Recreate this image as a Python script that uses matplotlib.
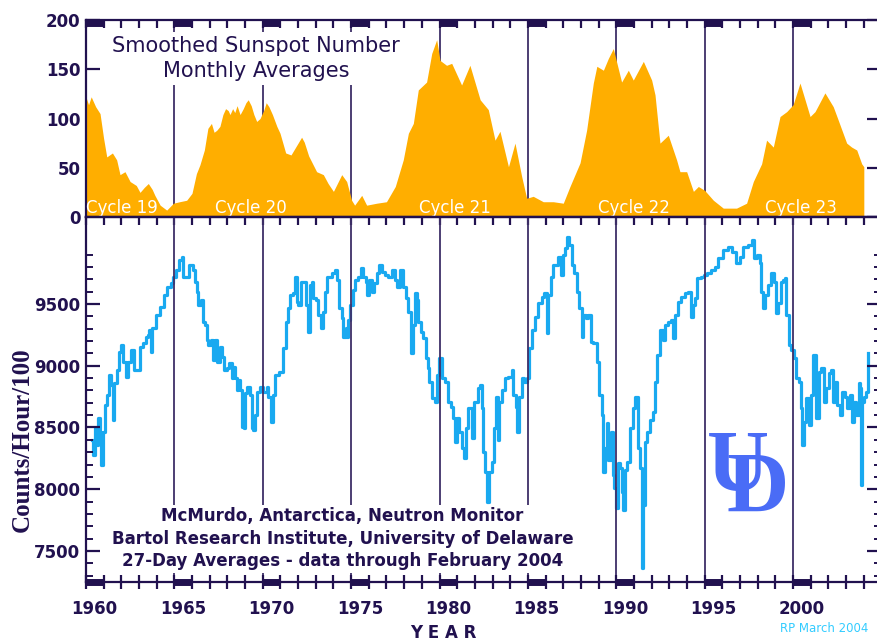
import matplotlib
matplotlib.use("Agg")
import matplotlib.pyplot as plt
import matplotlib.transforms as mtransforms
from matplotlib.ticker import FixedLocator, NullFormatter


# Monthly averaged sunspot number (year, value)
SUNSPOT_YEAR = [
    1960.00, 1960.15, 1960.30, 1960.55, 1960.80, 1961.00, 1961.18, 1961.50,
    1961.74, 1961.93, 1962.21, 1962.50, 1962.85, 1963.06, 1963.30, 1963.53,
    1963.75, 1963.90, 1964.20, 1964.57, 1964.95, 1965.30, 1965.70, 1966.00,
    1966.25, 1966.45, 1966.70, 1966.90, 1967.10, 1967.25, 1967.40, 1967.58,
    1967.75, 1967.90, 1968.05, 1968.15, 1968.30, 1968.42, 1968.55, 1968.72,
    1968.90, 1969.05, 1969.18, 1969.35, 1969.50, 1969.66, 1969.85, 1970.05,
    1970.20, 1970.35, 1970.55, 1970.80, 1970.98, 1971.30, 1971.60, 1971.90,
    1972.20, 1972.35, 1972.60, 1973.05, 1973.43, 1973.70, 1974.00, 1974.47,
    1974.75, 1975.03, 1975.20, 1975.60, 1975.88, 1976.45, 1977.00, 1977.50,
    1977.95, 1978.24, 1978.52, 1978.80, 1979.27, 1979.56, 1979.84, 1980.03,
    1980.40, 1980.69, 1981.25, 1981.72, 1982.30, 1982.76, 1983.14, 1983.42,
    1983.90, 1984.27, 1984.65, 1984.93, 1985.30, 1985.87, 1986.44, 1987.00,
    1987.38, 1987.95, 1988.32, 1988.70, 1988.90, 1989.27, 1989.55, 1989.83,
    1990.30, 1990.68, 1990.96, 1991.53, 1992.00, 1992.19, 1992.47, 1992.94,
    1993.41, 1993.60, 1993.98, 1994.36, 1994.64, 1995.00, 1995.49, 1996.05,
    1996.80, 1997.37, 1997.75, 1998.22, 1998.50, 1998.88, 1999.26, 1999.64,
    2000.00, 2000.39, 2000.96, 2001.24, 2001.80, 2002.27, 2002.56, 2003.03,
    2003.31, 2003.60, 2003.88, 2004.00,
]
SUNSPOT_VALUE = [
    122, 114, 122, 112, 105, 80, 61, 65,
    58, 43, 46, 36, 32, 25, 30, 34,
    28, 22, 12, 7, 14, 15.5, 17, 24,
    44, 53, 68, 90, 95, 86, 88, 92,
    104, 110, 108, 104, 110, 106, 113, 104,
    110, 116, 119, 113, 104, 97, 100, 108,
    116, 112, 104, 92, 85, 65, 63, 72,
    81, 76, 62, 46, 43, 34, 26, 43,
    36, 17, 12, 22, 12, 14, 15.5, 31,
    58, 85, 95, 129, 137, 166, 180, 159,
    154, 156, 134, 154, 119, 109, 78, 87,
    51, 75, 41, 19, 21, 15.5, 15.5, 14,
    31, 55, 88, 136, 153, 149, 161, 171,
    137, 149, 139, 158, 139, 124, 75, 83,
    58, 46, 46, 26, 31, 27, 17, 9,
    9, 14, 36, 54, 78, 71, 102, 107,
    114, 136, 102, 107, 126, 112, 98, 75,
    71, 68, 54, 51,
]

# McMurdo neutron monitor, 27-day averages (counts/hour/100)
NEUTRON_YEAR = [
    1960.33, 1960.38, 1960.52, 1960.61, 1960.70, 1960.80, 1960.83, 1960.95,
    1961.08, 1961.17, 1961.33, 1961.40, 1961.55, 1961.60, 1961.74, 1961.89,
    1961.99, 1962.08, 1962.27, 1962.40, 1962.53, 1962.72, 1962.96, 1963.06,
    1963.25, 1963.38, 1963.53, 1963.59, 1963.68, 1963.74, 1963.96, 1964.19,
    1964.42, 1964.60, 1964.80, 1964.94, 1965.10, 1965.27, 1965.42, 1965.47,
    1965.66, 1965.85, 1966.04, 1966.17, 1966.27, 1966.36, 1966.49, 1966.60,
    1966.74, 1966.83, 1966.92, 1967.06, 1967.17, 1967.30, 1967.43, 1967.58,
    1967.68, 1967.81, 1967.96, 1968.11, 1968.25, 1968.34, 1968.43, 1968.53,
    1968.62, 1968.72, 1968.81, 1968.94, 1969.00, 1969.13, 1969.28, 1969.38,
    1969.47, 1969.56, 1969.66, 1969.85, 1970.03, 1970.23, 1970.32, 1970.45,
    1970.57, 1970.70, 1970.94, 1971.17, 1971.32, 1971.45, 1971.54, 1971.70,
    1971.83, 1971.92, 1972.01, 1972.15, 1972.30, 1972.45, 1972.58, 1972.67,
    1972.77, 1972.86, 1973.01, 1973.14, 1973.28, 1973.39, 1973.52, 1973.62,
    1973.90, 1974.09, 1974.22, 1974.33, 1974.47, 1974.56, 1974.70, 1974.75,
    1974.84, 1974.94, 1975.09, 1975.22, 1975.41, 1975.54, 1975.69, 1975.84,
    1975.92, 1976.03, 1976.17, 1976.30, 1976.45, 1976.60, 1976.73, 1976.92,
    1977.10, 1977.30, 1977.48, 1977.61, 1977.77, 1977.95, 1978.10, 1978.24,
    1978.37, 1978.48, 1978.61, 1978.71, 1978.80, 1978.94, 1979.08, 1979.24,
    1979.33, 1979.42, 1979.56, 1979.75, 1979.84, 1979.99, 1980.12, 1980.31,
    1980.50, 1980.63, 1980.78, 1980.88, 1980.97, 1981.12, 1981.26, 1981.39,
    1981.50, 1981.63, 1981.82, 1981.95, 1982.20, 1982.29, 1982.39, 1982.48,
    1982.57, 1982.70, 1982.82, 1982.95, 1983.08, 1983.20, 1983.33, 1983.38,
    1983.52, 1983.70, 1983.89, 1984.08, 1984.17, 1984.33, 1984.37, 1984.51,
    1984.65, 1984.78, 1984.93, 1985.08, 1985.21, 1985.40, 1985.59, 1985.78,
    1985.91, 1986.06, 1986.15, 1986.29, 1986.44, 1986.72, 1986.87, 1986.97,
    1987.10, 1987.23, 1987.34, 1987.48, 1987.61, 1987.76, 1987.91, 1988.04,
    1988.13, 1988.29, 1988.42, 1988.55, 1988.70, 1988.89, 1989.04, 1989.17,
    1989.26, 1989.36, 1989.46, 1989.55, 1989.69, 1989.80, 1989.89, 1989.98,
    1990.08, 1990.21, 1990.31, 1990.40, 1990.50, 1990.63, 1990.78, 1990.93,
    1991.06, 1991.19, 1991.24, 1991.34, 1991.43, 1991.53, 1991.62, 1991.75,
    1991.90, 1992.09, 1992.19, 1992.32, 1992.47, 1992.62, 1992.75, 1992.94,
    1993.08, 1993.19, 1993.32, 1993.49, 1993.68, 1993.87, 1994.06, 1994.21,
    1994.34, 1994.43, 1994.58, 1994.80, 1994.96, 1995.15, 1995.34, 1995.56,
    1995.75, 1996.03, 1996.32, 1996.54, 1996.79, 1996.98, 1997.17, 1997.45,
    1997.68, 1997.79, 1997.98, 1998.11, 1998.20, 1998.30, 1998.43, 1998.58,
    1998.77, 1998.91, 1999.02, 1999.15, 1999.30, 1999.43, 1999.52, 1999.62,
    1999.75, 1999.90, 2000.05, 2000.18, 2000.32, 2000.43, 2000.52, 2000.62,
    2000.75, 2000.88, 2001.03, 2001.13, 2001.22, 2001.31, 2001.45, 2001.60,
    2001.73, 2001.88, 2002.01, 2002.16, 2002.26, 2002.35, 2002.50, 2002.64,
    2002.77, 2002.92, 2003.07, 2003.20, 2003.33, 2003.45, 2003.58, 2003.70,
    2003.79, 2003.82, 2003.90, 2004.01, 2004.14, 2004.23,
]
NEUTRON_COUNT = [
    8400, 8277, 8493, 8358, 8574, 8466, 8196, 8466,
    8682, 8763, 8925, 8844, 8561, 8858, 8966, 9114,
    9168, 9033, 8911, 9033, 9128, 8966, 8966, 9154,
    9182, 9235, 9249, 9289, 9114, 9303, 9411, 9478,
    9573, 9640, 9667, 9721, 9775, 9856, 9883, 9721,
    9721, 9816, 9775, 9681, 9600, 9492, 9532, 9357,
    9330, 9209, 9168, 9209, 9047, 9209, 9033, 9154,
    9073, 8966, 8979, 9020, 8898, 8992, 8898, 8804,
    8885, 8804, 8507, 8493, 8777, 8831, 8763, 8493,
    8480, 8601, 8790, 8831, 8790, 8831, 8750, 8547,
    8763, 8925, 8952, 9141, 9357, 9465, 9573, 9587,
    9721, 9519, 9492, 9681, 9681, 9492, 9276, 9654,
    9681, 9546, 9532, 9411, 9303, 9438, 9600, 9721,
    9748, 9775, 9694, 9465, 9384, 9235, 9303, 9235,
    9370, 9492, 9613, 9694, 9721, 9794, 9721, 9681,
    9573, 9694, 9600, 9667, 9748, 9816, 9762, 9735,
    9721, 9775, 9694, 9640, 9775, 9640, 9546, 9438,
    9101, 9330, 9587, 9532, 9357, 9276, 9222, 9060,
    8979, 8871, 8736, 8709, 8925, 9060, 8898, 8871,
    8709, 8668, 8574, 8385, 8574, 8466, 8331, 8250,
    8493, 8655, 8412, 8709, 8817, 8844, 8655, 8304,
    8142, 7899, 8142, 8223, 8493, 8750, 8399, 8709,
    8804, 8898, 8911, 8966, 8763, 8668, 8466, 8750,
    8898, 8871, 8898, 9141, 9289, 9397, 9505, 9559,
    9587, 9263, 9573, 9721, 9816, 9883, 9735, 9897,
    9951, 10045, 9978, 9816, 9748, 9600, 9465, 9235,
    9411, 9384, 9411, 9195, 9182, 9033, 8763, 8601,
    8142, 8331, 8534, 8237, 8466, 8115, 8007, 7846,
    8210, 8169, 7980, 7832, 8156, 8223, 8493, 8655,
    8750, 8750, 8331, 8169, 7359, 7872, 8385, 8466,
    8561, 8628, 8871, 9087, 9289, 9209, 9330, 9357,
    9370, 9222, 9411, 9519, 9559, 9587, 9600, 9397,
    9492, 9546, 9708, 9721, 9735, 9748, 9775, 9802,
    9870, 9937, 9964, 9923, 9830, 9883, 9964, 9978,
    10018, 9870, 9897, 9830, 9600, 9465, 9573, 9654,
    9748, 9681, 9425, 9505, 9681, 9694, 9708, 9411,
    9168, 9128, 9060, 8898, 8871, 8655, 8358, 8547,
    8736, 8520, 8763, 9087, 9087, 8574, 8952, 8979,
    8709, 8817, 8939, 8966, 8709, 8871, 8682, 8601,
    8790, 8750, 8655, 8763, 8547, 8709, 8601, 8858,
    8817, 8034, 8709, 8750, 8790, 9101,
]

CYCLE_LABELS = ["Cycle 19", "Cycle 20", "Cycle 21", "Cycle 22", "Cycle 23"]
CYCLE_LABEL_YEAR = [1962.05, 1969.35, 1980.85, 1991.0, 2000.45]
YEAR_LABELS = ["1960", "1965", "1970", "1975", "1980", "1985", "1990",
               "1995", "2000"]
SUNSPOT_TICKS = [0, 50, 100, 150, 200]
NEUTRON_TICKS = [7500, 8000, 8500, 9000, 9500]

NAVY = "#21114f"
DIVIDER = "#3e2f68"
ORANGE = "#ffae00"
SKY = "#19a9f0"
UD_BLUE = "#4a6cf6"

X0, X1 = 1960, 2005
W, H = 878, 642

fig = plt.figure(figsize=(W / 100, H / 100), dpi=100)
left = 85.9 / W
width = 45 * 17.68 / W
ax1 = fig.add_axes([left, 1 - 217 / H, width, 197 / H])
ax2 = fig.add_axes([left, 1 - 582 / H, width, 365 / H])

year_starts = [int(y) for y in YEAR_LABELS]
all_years = list(range(X0, X1 + 1))

for ax in (ax1, ax2):
    ax.set_xlim(X0, X1)
    for side in ("left", "right", "top", "bottom"):
        ax.spines[side].set_color(NAVY)
        ax.spines[side].set_linewidth(1.6)
    # five-year dividers
    ax.vlines(year_starts[1:], 0, 1, transform=ax.get_xaxis_transform(),
              colors=DIVIDER, linewidth=1.3, zorder=1)

tick_font = dict(labelcolor=NAVY, labelsize=12)

# --- sunspot panel ---
ax1.set_ylim(0, 200)
ax1.fill_between(SUNSPOT_YEAR, SUNSPOT_VALUE, 0, color=ORANGE,
                 linewidth=0, zorder=2)
ax1.yaxis.set_major_locator(FixedLocator(SUNSPOT_TICKS))
ax1.tick_params(axis="y", which="major", direction="in", length=10,
                width=1.6, color=NAVY, pad=4, left=True, right=True,
                **tick_font)
ax1.xaxis.set_major_locator(FixedLocator([]))
ax1.xaxis.set_minor_locator(FixedLocator(all_years))
ax1.xaxis.set_minor_formatter(NullFormatter())
ax1.tick_params(axis="x", which="minor", direction="in", length=6,
                width=1.6, color=NAVY, top=True, bottom=False)

for name, yr in zip(CYCLE_LABELS, CYCLE_LABEL_YEAR):
    ax1.text(yr, 9.5, name, color="white", fontsize=12, ha="center",
             va="center", zorder=4)

ax1.text(1969.62, 161, "Smoothed Sunspot Number\nMonthly Averages",
         color=NAVY, fontsize=15, ha="center", va="center", linespacing=1.3,
         zorder=4, bbox=dict(facecolor="white", edgecolor="none", pad=3))

# thick year marks under the top spine
top_trans = mtransforms.offset_copy(ax1.get_xaxis_transform(), fig=fig,
                                    y=-2.5, units="dots")
for y0 in year_starts:
    ax1.plot([y0, y0 + 1], [1, 1], color=NAVY, linewidth=5,
             solid_capstyle="butt", transform=top_trans, clip_on=False,
             zorder=5)

# --- neutron monitor panel ---
ax2.set_ylim(7249, 10204)
ax2.plot(NEUTRON_YEAR, NEUTRON_COUNT, color=SKY, linewidth=2.3,
         drawstyle="steps-post", zorder=0.5)
ax2.yaxis.set_major_locator(FixedLocator(NEUTRON_TICKS))
ax2.yaxis.set_minor_locator(FixedLocator(
    [v for v in range(7300, 10000, 100) if v not in NEUTRON_TICKS]))
ax2.tick_params(axis="y", which="major", direction="in", length=10,
                width=1.6, color=NAVY, pad=4, left=True, right=True,
                **tick_font)
ax2.tick_params(axis="y", which="minor", direction="in", length=5,
                width=1.4, color=NAVY, left=True, right=True)

ax2.xaxis.set_major_locator(FixedLocator([y + 0.5 for y in year_starts]))
ax2.set_xticklabels(YEAR_LABELS)
ax2.xaxis.set_minor_locator(FixedLocator(all_years))
ax2.tick_params(axis="x", which="major", length=0, pad=13, **tick_font)
ax2.tick_params(axis="x", which="minor", direction="inout", length=10,
                width=1.6, color=NAVY)
for lab in ax1.get_yticklabels() + ax2.get_yticklabels() + ax2.get_xticklabels():
    lab.set_fontweight("bold")

top_axis = ax2.secondary_xaxis("top")
top_axis.xaxis.set_major_locator(FixedLocator(all_years))
top_axis.xaxis.set_major_formatter(NullFormatter())
top_axis.tick_params(axis="x", direction="in", length=6, width=1.6,
                     color=NAVY)
top_axis.spines["top"].set_color(NAVY)
top_axis.spines["top"].set_linewidth(1.6)

for y0 in year_starts:
    ax2.plot([y0, y0 + 1], [0, 0], color=NAVY, linewidth=5,
             solid_capstyle="butt", transform=ax2.get_xaxis_transform(),
             clip_on=False, zorder=5)

ax2.text(1974.52, 7600,
         "McMurdo, Antarctica, Neutron Monitor\n"
         "Bartol Research Institute, University of Delaware\n"
         "27-Day Averages - data through February 2004",
         color=NAVY, fontsize=12, fontweight="bold", ha="center",
         va="center", linespacing=1.3, zorder=4,
         bbox=dict(facecolor="white", edgecolor="none", pad=2))

# University of Delaware monogram
fig.text(737.5 / W, 1 - 490 / H, "U", color=UD_BLUE, fontsize=62,
         family="Liberation Serif", fontweight="bold", ha="center",
         va="baseline")
fig.text(758 / W, 1 - 512 / H, "D", color=UD_BLUE, fontsize=62,
         family="Liberation Serif", fontweight="bold", ha="center",
         va="baseline")

fig.text(22 / W, 1 - 440 / H, "Counts/Hour/100", rotation=90, color=NAVY,
         fontsize=18, family="Liberation Serif", fontweight="bold",
         ha="center", va="center")
fig.text(443 / W, 1 - 633 / H, "Y E A R", color=NAVY, fontsize=12,
         fontweight="bold", ha="center", va="center")
fig.text(868 / W, 1 - 628 / H, "RP March 2004", color="#33ccff",
         fontsize=8.5, ha="right", va="center")

fig.savefig("out.png", dpi=100)
